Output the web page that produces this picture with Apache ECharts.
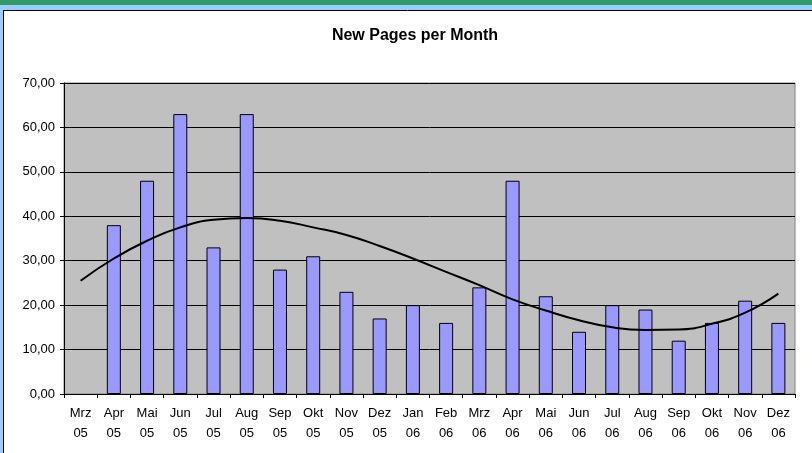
<!DOCTYPE html>
<html>
<head>
<meta charset="utf-8">
<script src="https://cdn.jsdelivr.net/npm/echarts@6/dist/echarts.min.js"></script>
<style>
  html, body { margin: 0; padding: 0; background: #fff; }
  #main { width: 812px; height: 453px; }
</style>
</head>
<body>
<div id="main"></div>
<script>
// Monate (Kategorien)
var months = ['Mrz\n05','Apr\n05','Mai\n05','Jun\n05','Jul\n05','Aug\n05','Sep\n05','Okt\n05','Nov\n05','Dez\n05',
              'Jan\n06','Feb\n06','Mrz\n06','Apr\n06','Mai\n06','Jun\n06','Jul\n06','Aug\n06','Sep\n06','Okt\n06','Nov\n06','Dez\n06'];
// neue Seiten pro Monat (Mrz 05 ohne Balken)
var newPages = [null, 38, 48, 63, 33, 63, 28, 31, 23, 17, 20, 16, 24, 48, 22, 14, 20, 19, 12, 16, 21, 16];
// Trendlinie
var trend = [25.5, 30.5, 34.5, 37.5, 39.2, 39.6, 39, 37.5, 35.8, 33.3, 30.5, 27.5, 24.5, 21.3, 18.8, 16.6, 15, 14.4, 14.5, 15.8, 18.3, 22.6];

var chart = echarts.init(document.getElementById('main'));

var option = {
    backgroundColor: '#ffffff',
    animation: false,
    textStyle: { fontFamily: 'Liberation Sans, Arial, sans-serif' },
    title: {
        text: 'New Pages per Month',
        left: 410,
        textAlign: 'center',
        top: 23,
        textStyle: { fontSize: 16, fontWeight: 'bold', color: '#000' }
    },
    graphic: [
        // Rahmen wie im Excel-Fenster
        { type: 'rect', shape: { x: 0, y: 0, width: 812, height: 5 }, style: { fill: '#339966' } },
        { type: 'rect', shape: { x: 0, y: 5, width: 812, height: 5 }, style: { fill: '#99CCFF' } },
        { type: 'rect', shape: { x: 0, y: 5, width: 3, height: 448 }, style: { fill: '#99CCFF' } },
        { type: 'line', shape: { x1: 3, y1: 10.5, x2: 812, y2: 10.5 }, style: { stroke: '#000', lineWidth: 1 } },
        { type: 'line', shape: { x1: 3.5, y1: 10, x2: 3.5, y2: 453 }, style: { stroke: '#000', lineWidth: 1 } }
    ],
    grid: {
        left: 64,
        top: 83,
        width: 731,
        height: 311,
        show: true,
        backgroundColor: '#C0C0C0',
        borderColor: '#808080',
        borderWidth: 1
    },
    xAxis: {
        type: 'category',
        data: months,
        boundaryGap: true,
        axisLine: { lineStyle: { color: '#000', width: 1 } },
        axisTick: { show: true, length: 4, lineStyle: { color: '#000' } },
        axisLabel: { color: '#000', fontSize: 13, lineHeight: 20, margin: 9, interval: 0 }
    },
    yAxis: {
        type: 'value',
        min: 0,
        max: 70,
        interval: 10,
        axisLine: { show: true, lineStyle: { color: '#000', width: 1 } },
        axisTick: { show: true, length: 4, lineStyle: { color: '#000' } },
        axisLabel: {
            color: '#000', fontSize: 13, margin: 9,
            formatter: function (v) { return v.toFixed(2).replace('.', ','); }
        },
        splitLine: { show: true, lineStyle: { color: '#000', width: 1 } }
    },
    series: [
        {
            name: 'Neue Seiten',
            type: 'bar',
            data: newPages,
            barWidth: 14,
            itemStyle: { color: '#9999FF', borderColor: '#000', borderWidth: 1 }
        },
        {
            name: 'Trend',
            type: 'line',
            data: trend,
            smooth: true,
            symbol: 'none',
            lineStyle: { color: '#000', width: 2 },
            z: 5
        }
    ]
};

chart.setOption(option);
</script>
</body>
</html>
